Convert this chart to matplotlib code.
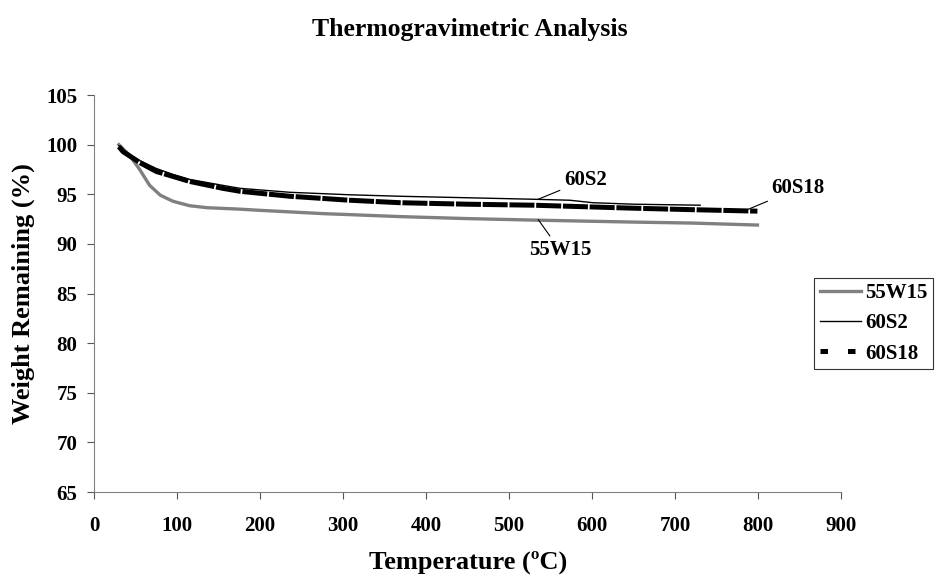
import matplotlib
matplotlib.use("Agg")
import matplotlib.pyplot as plt
from matplotlib.lines import Line2D

plt.rcParams.update({"font.family": "Liberation Serif", "font.weight": "bold", "font.size": 15})

# readings
t_55w15 = [30, 36, 43, 55, 67, 80, 95, 115, 136, 176, 196, 276, 308, 369, 450, 529, 649, 720, 799]
w_55w15 = [100.0, 99.5, 98.9, 97.5, 95.9, 94.9, 94.3, 93.85, 93.65, 93.5, 93.4, 93.05, 92.95, 92.75,
           92.55, 92.4, 92.2, 92.1, 91.9]

t_60s2 = [30, 35, 55, 75, 95, 115, 155, 176, 236, 308, 369, 450, 529, 573, 601, 650, 730]
w_60s2 = [99.9, 99.4, 98.4, 97.6, 97.0, 96.5, 95.9, 95.6, 95.2, 94.95, 94.8, 94.65, 94.5, 94.4,
          94.15, 94.0, 93.9]

t_60s18 = [30, 35, 55, 75, 95, 115, 155, 176, 236, 308, 369, 450, 529, 649, 720, 799]
w_60s18 = [99.8, 99.3, 98.2, 97.3, 96.8, 96.3, 95.6, 95.3, 94.8, 94.4, 94.15, 94.0, 93.9, 93.6,
           93.45, 93.3]

fig = plt.figure(figsize=(9.4, 5.83), dpi=100)
ax = fig.add_axes([0.100, 0.156, 0.795, 0.681])

ax.plot(t_55w15, w_55w15, color="#808080", lw=2.4)
ax.plot(t_60s2, w_60s2, color="black", lw=1.0)
ax.plot(t_60s18, w_60s18, color="black", lw=3.6, ls=(0, (5, 0.35)))

ax.set_xlim(0, 900); ax.set_ylim(65, 105)
ax.set_xticks(range(0, 901, 100)); ax.set_yticks(range(65, 106, 5))
for s in ("top", "right"):
    ax.spines[s].set_visible(False)
for s in ("left", "bottom"):
    ax.spines[s].set_color("#808080")
ax.tick_params(direction="out", length=5, color="#555555", labelsize=15)
ax.tick_params(axis="x", pad=12)
ax.tick_params(axis="y", pad=7)
ax.set_xlabel("Temperature (ºC)", fontsize=19, fontweight="bold", labelpad=11)
ax.set_ylabel("Weight Remaining (%)", fontsize=19, fontweight="bold", labelpad=8)
fig.text(0.5, 0.949, "Thermogravimetric Analysis", fontsize=18.5, fontweight="bold",
         ha="center", va="center")

# callout labels
arrow = dict(arrowstyle="-", lw=0.8, color="black", shrinkA=1, shrinkB=0)
ax.annotate("60S2", xy=(535, 94.5), xytext=(566, 96.45), fontsize=15, fontweight="bold",
            ha="left", va="center", arrowprops=arrow)
ax.annotate("55W15", xy=(535, 92.45), xytext=(561, 89.4), fontsize=15, fontweight="bold",
            ha="center", va="center", arrowprops=arrow)
ax.annotate("60S18", xy=(784, 93.35), xytext=(816, 95.6), fontsize=15, fontweight="bold",
            ha="left", va="center", arrowprops=arrow)

handles = [Line2D([], [], color="#808080", lw=2.4),
           Line2D([], [], color="black", lw=1.0),
           Line2D([], [], color="black", lw=3.6, ls=(0, (1.5, 4)))]
leg = ax.legend(handles, ["55W15", "60S2", "60S18"], loc="upper left",
                bbox_to_anchor=(0.964, 0.54), frameon=True, fancybox=False,
                edgecolor="black", fontsize=15, handlelength=2.0, borderpad=0.25,
                labelspacing=0.5, handletextpad=0.2, borderaxespad=0)
leg.get_frame().set_linewidth(0.8)

fig.savefig("out.png", dpi=100, facecolor="white")
